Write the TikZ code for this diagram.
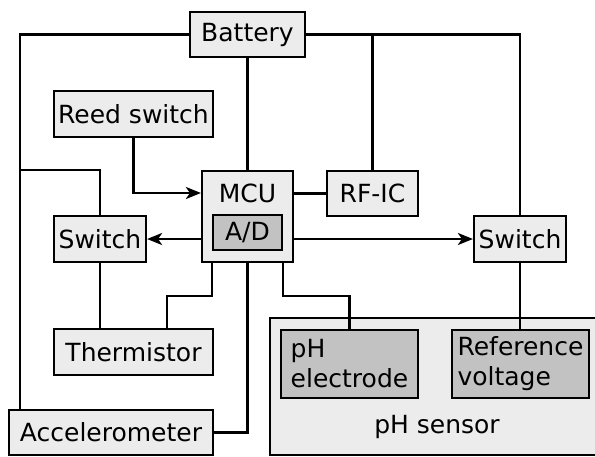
\documentclass[tikz,border=0pt]{standalone}
\usepackage{fontspec}
\setmainfont{DejaVu Sans}
\usetikzlibrary{arrows.meta}
\definecolor{boxlight}{HTML}{ECECEC}
\definecolor{boxdark}{HTML}{C2C2C2}
\begin{document}
\begin{tikzpicture}[x=1pt,y=-1pt,line width=2.2pt,
  font=\fontsize{25}{30}\selectfont,
  box/.style={draw,fill=boxlight,inner sep=0pt},
  darkbox/.style={draw,fill=boxdark,inner sep=0pt,align=left},
  arr/.style={-{Stealth[length=15pt,width=12pt,inset=4pt]}}]
\useasboundingbox (0,0) rectangle (595,456);

\draw[fill=boxlight] (270,318) rectangle (600,455);
\node (phsens) at (437,427) {pH sensor};

\node[box,minimum width=115,minimum height=45] (battery) at (247.5,34.5) {Battery};
\node[box,minimum width=159,minimum height=46] (reed) at (133.5,114) {Reed switch};
\node[box,minimum width=91,minimum height=91] (mcu) at (247.5,216.5) {};
\node (mcut) at (247.5,193) {MCU};
\node[darkbox,minimum width=69,minimum height=35] (ad) at (247.5,232.5) {A/D};
\node[box,minimum width=91,minimum height=45] (rfic) at (372.5,193.5) {RF-IC};
\node[box,minimum width=92,minimum height=46] (swl) at (100,239) {Switch};
\node[box,minimum width=92,minimum height=46] (swr) at (520,239) {Switch};
\node[box,minimum width=159,minimum height=46] (therm) at (133.5,352) {Thermistor};
\node[box,minimum width=204,minimum height=45] (accel) at (111,432.5) {Accelerometer};
\node[darkbox,minimum width=137,minimum height=68] (phel) at (349.5,364) {pH\\electrode};
\node[darkbox,minimum width=137,minimum height=68] (refv) at (520.5,364) {Reference\\voltage};

\coordinate (lft) at (20,34.5);
\coordinate (jt) at (167,296);
\coordinate (jp) at (phel.north |- jt);

\draw (battery.west) -- (lft) -- (lft |- accel.north);
\draw (lft |- mcu.north) -| (swl.north);
\draw (battery.south) -- (mcu.north);
\draw (battery.east) -| (swr.north);
\draw (rfic.north) -- (rfic.north |- battery.east);
\draw[arr] (reed.south) |- (mcu.west |- mcut);
\draw (rfic.west) -- (rfic.west -| mcu.east);
\draw[arr] (swl.east -| mcu.west) -- (swl.east);
\draw[arr] (swr.west -| mcu.east) -- (swr.west);
\draw (swl.south) -- (swl.south |- therm.north);
\draw (ad.west |- mcu.south) |- (jt) -- (jt |- therm.north);
\draw (mcu.south) |- (accel.east);
\draw (ad.east |- mcu.south) |- (jp) -- (phel.north);
\draw (swr.south) -- (swr.south |- refv.north);
\end{tikzpicture}
\end{document}
